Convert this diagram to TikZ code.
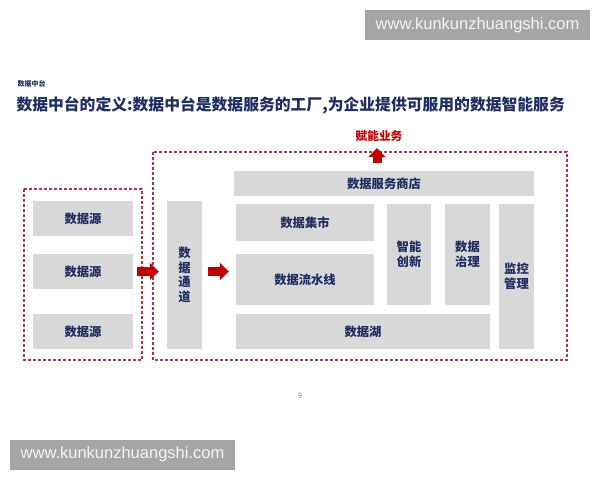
\documentclass[tikz,border=0pt]{standalone}
\usepackage{fontspec}
\setmainfont{Noto Sans CJK SC}
\newfontfamily\wmfont{Liberation Sans}
\usetikzlibrary{arrows.meta,calc}
\definecolor{navy}{RGB}{31,46,98}
\definecolor{boxgray}{RGB}{216,216,216}
\definecolor{dashred}{RGB}{168,56,66}
\definecolor{arrowred}{RGB}{192,0,0}
\definecolor{wmgray}{RGB}{166,166,166}
\tikzset{
  block/.style={fill=boxgray, inner sep=0pt, text=navy, align=center,
    font=\fontsize{12.3}{14.5}\selectfont\bfseries},
  dashbox/.style={draw=dashred, line width=1.2pt, dash pattern=on 3pt off 2pt},
  fatarrow/.style={arrowred, line width=9pt, -{Triangle[length=9pt,width=17pt]}},
  wmark/.style={fill=wmgray, text=white!95!black, inner sep=0pt,
    minimum width=225pt, minimum height=30pt,
    font=\wmfont\fontsize{16.5}{18}\selectfont}
}
\begin{document}
\begin{tikzpicture}[x=1pt, y=-1pt]
  \useasboundingbox (0,0) rectangle (600,480);

  \node [wmark] (wmtop) at (477.5,25) {www.kunkunzhuangshi.com};
  \node [wmark] (wmbot) at (122.5,454.5) {www.kunkunzhuangshi.com};

  \node [anchor=west, text=navy, font=\fontsize{7}{8}\selectfont\bfseries] (sect) at (14,84) {数据中台};
  \node [anchor=west, text=navy, font=\fontsize{15.8}{18}\selectfont\bfseries] (title) at (13,105)
    {数据中台的定义:数据中台是数据服务的工厂,为企业提供可服用的数据智能服务};

  \draw [dashbox] (24,189) rectangle (142,360);
  \draw [dashbox] (153,152) rectangle (567,360);

  \node [block, minimum width=100pt, minimum height=35pt] (src1) at (83,218.5) {数据源};
  \node [block, minimum width=100pt, minimum height=35pt] (src2) at (83,271.5) {数据源};
  \node [block, minimum width=100pt, minimum height=35pt] (src3) at (83,331.5) {数据源};

  \node [block, minimum width=35pt, minimum height=148pt] (chan) at (184.5,275) {数\\据\\通\\道};

  \node [block, minimum width=300pt, minimum height=25pt] (shop) at (384,183.5) {数据服务商店};
  \node [block, minimum width=138pt, minimum height=37pt] (mart) at (305,222.5) {数据集市};
  \node [block, minimum width=138pt, minimum height=51pt] (flow) at (305,279.5) {数据流水线};
  \node [block, minimum width=44pt, minimum height=101pt] (innov) at (409,254.5) {智能\\创新};
  \node [block, minimum width=45pt, minimum height=101pt] (gov) at (467.5,254.5) {数据\\治理};
  \node [block, minimum width=35pt, minimum height=145pt] (mon) at (516.5,276.5) {监控\\管理};
  \node [block, minimum width=254pt, minimum height=35pt] (lake) at (363,331.5) {数据湖};

  \node [text=arrowred, font=\fontsize{11.7}{13}\selectfont\bfseries] (biz) at (379,136) {赋能业务};

  \draw [fatarrow] ($(src2.east)+(4,0)$) -- ($(chan.west |- src2.east)+(-8,0)$);
  \draw [fatarrow] ($(chan.east |- src2.east)+(6,0)$) -- ($(flow.west |- src2.east)+(-7,0)$);
  \draw [fatarrow] ($(biz.south |- shop.north)+(-2,-8)$) -- ($(biz.south)+(-2,3)$);

  \node [text=gray, font=\fontsize{7.5}{9}\selectfont] (pgnum) at (300,396) {9};
\end{tikzpicture}
\end{document}
